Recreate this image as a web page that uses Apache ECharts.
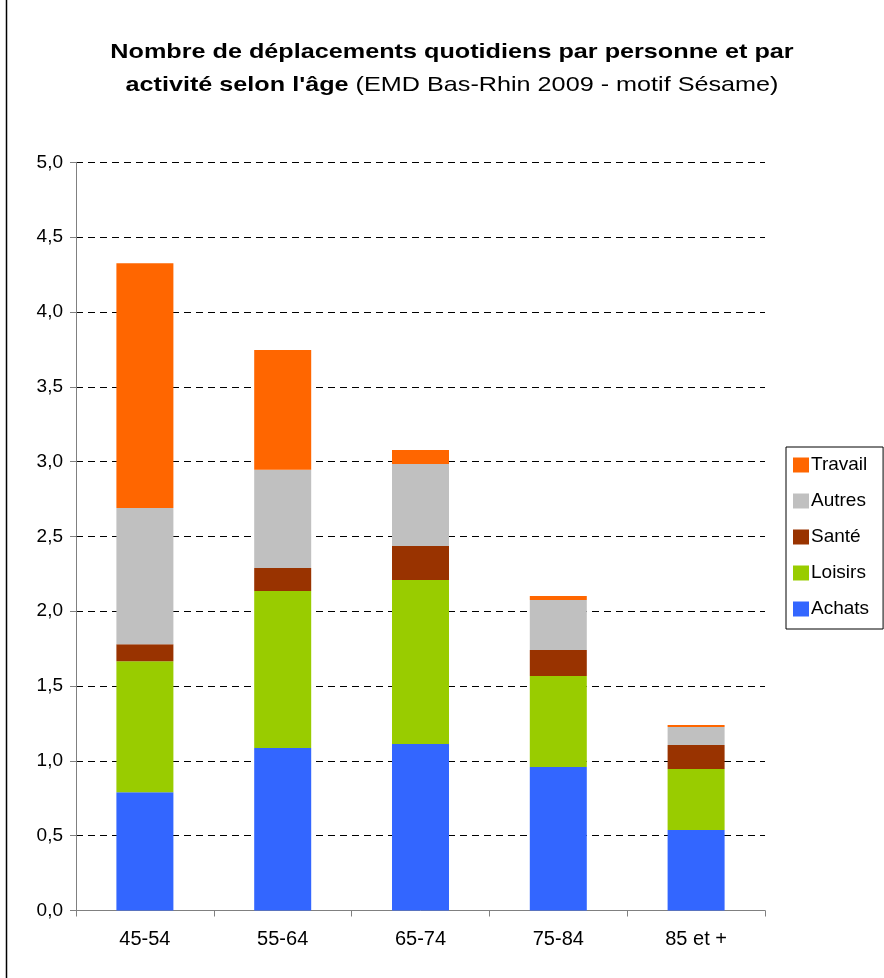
<!DOCTYPE html>
<html>
<head>
<meta charset="utf-8">
<script src="https://cdn.jsdelivr.net/npm/echarts@6/dist/echarts.min.js"></script>
<style>
  html, body { margin: 0; padding: 0; background: #fff; }
  #chart { width: 884px; height: 978px; }
</style>
</head>
<body>
<div id="chart"></div>
<script>
// Age groups and daily trips per person, by activity (stacked)
const ageGroups = ['45-54', '55-64', '65-74', '75-84', '85 et +'];
const achats  = [0.79, 1.086, 1.113, 0.959, 0.538];
const loisirs = [0.875, 1.049, 1.096, 0.608, 0.408];
const sante   = [0.114, 0.154, 0.227, 0.174, 0.160];
const autres  = [0.911, 0.657, 0.548, 0.334, 0.120];
const travail = [1.635, 0.800, 0.093, 0.027, 0.014];
const legendOrder = ['Travail', 'Autres', 'Santé', 'Loisirs', 'Achats'];

const titleBold1 = 'Nombre de déplacements quotidiens par personne et par';
const titleBold2 = 'activité selon l\'âge';
const titleSource = '(EMD Bas-Rhin 2009 - motif Sésame)';

const FONT = '"Liberation Sans", Arial, sans-serif';

const chart = echarts.init(document.getElementById('chart'), null, { renderer: 'canvas' });

function bar(name, data, color) {
  return {
    name: name,
    type: 'bar',
    stack: 'total',
    data: data,
    barWidth: 57,
    itemStyle: { color: color },
    emphasis: { disabled: true }
  };
}

chart.setOption({
  animation: false,
  backgroundColor: '#ffffff',
  textStyle: { fontFamily: FONT },
  legend: {
    data: legendOrder,
    orient: 'vertical',
    left: 786,
    top: 447,
    padding: [8, 14, 10, 7],
    itemGap: 16,
    itemWidth: 16,
    itemHeight: 15,
    icon: 'rect',
    borderColor: '#000',
    borderWidth: 1,
    backgroundColor: '#fff',
    selectedMode: false,
    textStyle: { fontFamily: FONT, fontSize: 19, lineHeight: 20, color: '#000', padding: [0, 0, 0, -3] }
  },
  grid: {
    left: 76,
    right: 119,
    top: 162.3,
    bottom: 67.5,
    containLabel: false
  },
  xAxis: {
    type: 'category',
    data: ageGroups,
    axisLine: { show: true, lineStyle: { color: '#808080', width: 1 } },
    axisTick: { show: true, alignWithLabel: false, length: 6, lineStyle: { color: '#808080' } },
    axisLabel: { fontFamily: FONT, fontSize: 20, color: '#000', margin: 19 },
    splitLine: { show: false }
  },
  yAxis: {
    type: 'value',
    min: 0,
    max: 5,
    interval: 0.5,
    axisLine: { show: true, lineStyle: { color: '#808080', width: 1 } },
    axisTick: { show: true, length: 6, lineStyle: { color: '#808080' } },
    axisLabel: {
      fontFamily: FONT,
      fontSize: 19,
      color: '#000',
      margin: 13,
      formatter: v => v.toFixed(1).replace('.', ',')
    },
    splitLine: {
      show: true,
      lineStyle: { color: '#000', type: [7, 5], width: 1 }
    }
  },
  series: [
    bar('Achats', achats, '#3366FF'),
    bar('Loisirs', loisirs, '#99CC00'),
    bar('Santé', sante, '#993300'),
    bar('Autres', autres, '#C0C0C0'),
    bar('Travail', travail, '#FF6600')
  ],
  graphic: [
    // Two-line heading, widened horizontally
    {
      type: 'text',
      x: 452,
      y: 36,
      scaleX: 1.2,
      silent: true,
      style: {
        text: '{b|' + titleBold1 + '}\n{b|' + titleBold2 + '} {n|' + titleSource + '}',
        align: 'center',
        verticalAlign: 'top',
        fill: '#000',
        font: 'bold 21px ' + FONT,
        lineHeight: 33,
        rich: {
          b: { fontFamily: FONT, fontSize: 21, fontWeight: 'bold', fill: '#000', lineHeight: 33 },
          n: { fontFamily: FONT, fontSize: 21, fontWeight: 'normal', fill: '#000', lineHeight: 33 }
        }
      }
    },
    // Left frame edge
    {
      type: 'line',
      shape: { x1: 6.5, y1: 0, x2: 6.5, y2: 978 },
      style: { stroke: '#000', lineWidth: 1.5 },
      silent: true
    }
  ]
});
</script>
</body>
</html>
